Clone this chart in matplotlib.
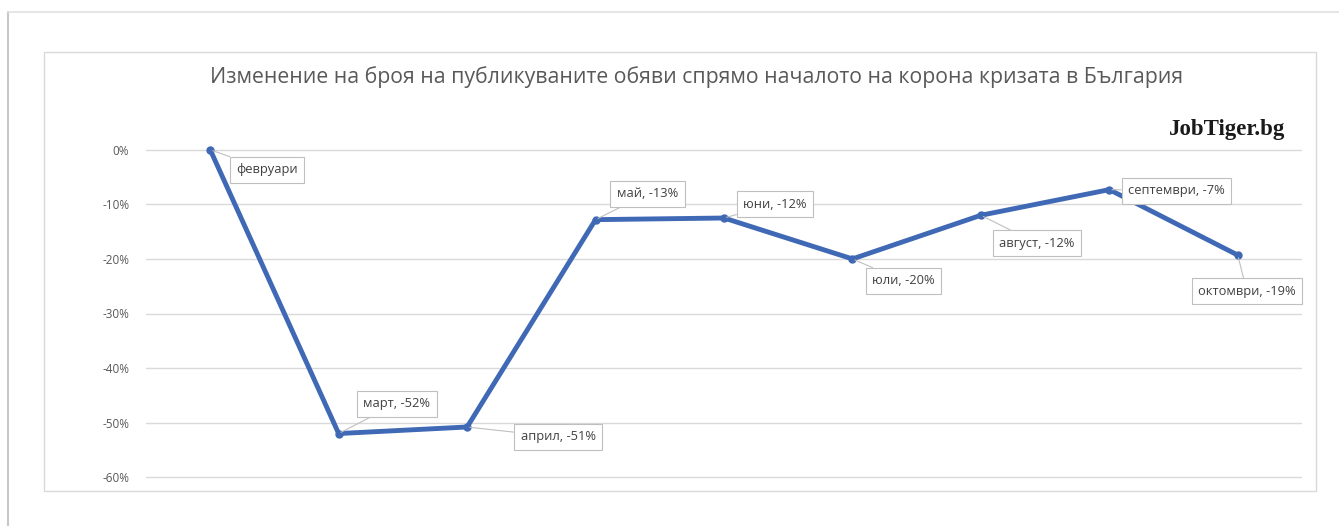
# ============================
# Import Libraries
# ============================

import matplotlib.pyplot as plt
from matplotlib.lines import Line2D
from matplotlib.patches import Rectangle
from matplotlib.ticker import PercentFormatter

plt.rcParams['font.family'] = ['Open Sans', 'DejaVu Sans']
plt.rcParams['axes.unicode_minus'] = False

# ============================
# Data
# ============================

months = ["февруари", "март", "април", "май", "юни",
          "юли", "август", "септември", "октомври"]
change = [0.0, -0.52, -0.508, -0.128, -0.125, -0.20, -0.12, -0.073, -0.193]
labels = ["февруари", "март, -52%", "април, -51%", "май, -13%", "юни, -12%",
          "юли, -20%", "август, -12%", "септември, -7%", "октомври, -19%"]
y_ticks = [0, -0.1, -0.2, -0.3, -0.4, -0.5, -0.6]

title = "Изменение на броя на публикуваните обяви спрямо началото на корона кризата в България"
source = "JobTiger.bg"

# label offsets in pixels (dx, dy) from each point
offsets = [(57, -20), (58, 30), (91, -10), (52, 26), (51, 14),
           (51, -22), (56, -28), (67, -1), (9, -36)]

# ============================
# Figure
# ============================

W, H = 1339, 526
fig = plt.figure(figsize=(W / 100, H / 100), dpi=100)
fig.patch.set_facecolor("white")

# outer card border
fig.add_artist(Line2D([8 / W, 8 / W], [0, 1 - 12 / H], color="#c8c8c8", lw=1.5))
fig.add_artist(Line2D([8 / W, 1], [1 - 12 / H, 1 - 12 / H], color="#e0e0e0", lw=1.2))

# chart area border
fig.add_artist(Rectangle((44 / W, 1 - 491 / H), (1316 - 44) / W, (491 - 52) / H,
                         transform=fig.transFigure, fill=False,
                         edgecolor="#d9d9d9", lw=1))

ax = fig.add_axes([146 / W, 1 - 479 / H, 1156 / W, (479 - 148) / H])

x = list(range(len(months)))
ax.plot(x, change, color="#3f68b5", lw=3.5, marker="o", markersize=5,
        markerfacecolor="#3f68b5", clip_on=False, zorder=3)

for i, lab in enumerate(labels):
    ax.annotate(
        lab,
        xy=(x[i], change[i]),
        xytext=offsets[i],
        textcoords="offset pixels",
        ha="center", va="center",
        fontsize=9.3, color="#404040",
        bbox=dict(boxstyle="square,pad=0.5", fc="white", ec="#bfbfbf", lw=0.8),
        arrowprops=dict(arrowstyle="-", color="#bfbfbf", lw=0.8,
                        shrinkA=0, shrinkB=2),
        zorder=4
    )

ax.set_xlim(-0.5, len(months) - 0.5)
ax.set_ylim(-0.6033, 0.0033)
ax.set_yticks(y_ticks)
ax.yaxis.set_major_formatter(PercentFormatter(1.0, decimals=0))
ax.tick_params(axis="y", length=0, pad=12, labelsize=8.5, labelcolor="#595959")
ax.set_xticks([])

ax.grid(axis="y", color="#d9d9d9", lw=1)
ax.set_axisbelow(True)
for s in ax.spines.values():
    s.set_visible(False)

fig.text(697 / W, 1 - 77 / H, title, ha="center", va="center",
         fontsize=15.3, color="#595959")
fig.text(1285 / W, 1 - 130 / H, source, ha="right", va="center",
         fontsize=16.5, fontweight="bold", family="Liberation Serif", color="#1a1a1a")

plt.savefig("out.png", dpi=100)
